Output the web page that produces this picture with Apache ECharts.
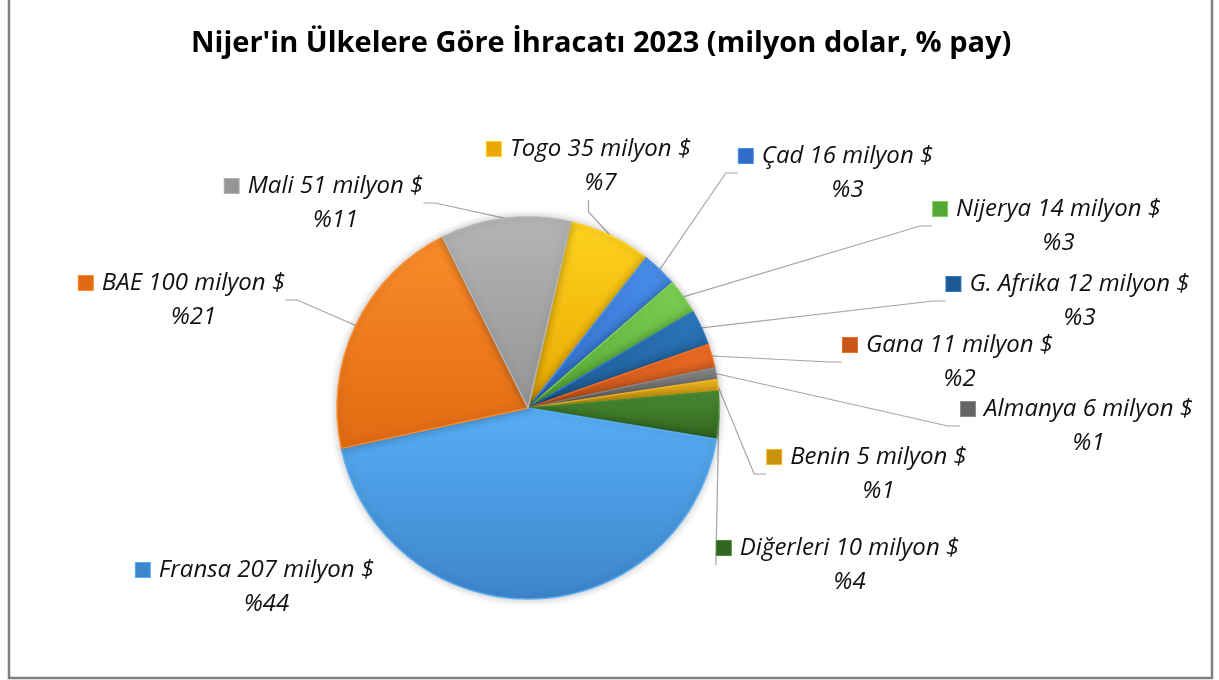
<!DOCTYPE html>
<html>
<head>
<meta charset="utf-8">
<title>Nijer ihracat 2023</title>
<script src="https://cdn.jsdelivr.net/npm/echarts@6/dist/echarts.min.js"></script>
<style>
  html, body { margin: 0; padding: 0; background: #fff; }
  #chart { width: 1219px; height: 680px; }
</style>
</head>
<body>
<div id="chart"></div>
<script>
// Data, clockwise from the top of the pie
const countries = ['Togo', 'Çad', 'Nijerya', 'G. Afrika', 'Gana', 'Almanya', 'Benin', 'Diğerleri', 'Fransa', 'BAE', 'Mali'];
const amounts = [35, 16, 14, 12, 11, 6, 5, 10, 207, 100, 51]; // milyon $
const shares = [7, 3, 3, 3, 2, 1, 1, 4, 44, 21, 11]; // % pay

// Slice colours (top tint, bottom shade)
const lightColors = ['#FFD21F', '#4A8FEA', '#7DD154', '#2C78BE', '#F06E25', '#8A8A8A', '#F2B820', '#4A8A33', '#58AEF5', '#FA8C2A', '#B4B4B4'];
const darkColors = ['#E8A800', '#2E6CC8', '#56A836', '#1D5A94', '#C8561A', '#666666', '#C8920A', '#33661F', '#3D85CC', '#E06A12', '#959595'];

// Label block centres (layout only)
const labelPos = [
  [589, 166], [836, 173], [1047, 226], [1068, 301], [948, 362], [1077, 426],
  [867, 474], [838, 565], [255, 587], [182, 300], [324, 203]
];

const chart = echarts.init(document.getElementById('chart'));

const seriesData = countries.map((name, i) => ({
  name: name,
  value: shares[i],
  itemStyle: {
    color: new echarts.graphic.LinearGradient(0, 0, 0, 1, [
      { offset: 0, color: lightColors[i] },
      { offset: 1, color: darkColors[i] }
    ]),
    borderColor: lightColors[i]
  },
  label: {
    formatter: '{k|}{t|' + name + ' ' + amounts[i] + ' milyon $}\n{p|%' + shares[i] + '}',
    rich: {
      k: {
        width: 14, height: 14,
        backgroundColor: darkColors[i],
        borderColor: lightColors[i], borderWidth: 1
      },
      t: { padding: [0, 0, 0, 9], fontSize: 24, lineHeight: 34, fontStyle: 'italic', color: '#111' },
      p: { padding: [0, 0, 0, 23], fontSize: 24, lineHeight: 34, fontStyle: 'italic', color: '#111' }
    }
  },
  labelLine: { show: name !== 'Fransa' }
}));

const option = {
  animation: false,
  title: {
    text: "Nijer'in Ülkelere Göre İhracatı 2023 (milyon dolar, % pay)",
    left: 186,
    top: 24,
    textStyle: { fontFamily: 'Open Sans', fontWeight: 'bold', fontSize: 29, color: '#000' }
  },
  textStyle: { fontFamily: 'Open Sans' },
  graphic: [{
    type: 'rect',
    shape: { x: 9, y: -5, width: 1203, height: 683 },
    style: { fill: 'none', stroke: '#808080', lineWidth: 2.5 },
    silent: true
  }],
  series: [{
    type: 'pie',
    center: [528, 408],
    radius: 191,
    startAngle: 77,
    clockwise: true,
    avoidLabelOverlap: false,
    itemStyle: {
      borderWidth: 1.5,
      shadowBlur: 8,
      shadowColor: 'rgba(0,0,0,0.25)'
    },
    label: {
      show: true,
      fontFamily: 'Open Sans',
      align: 'center',
      lineHeight: 34
    },
    labelLine: {
      show: true,
      length: 20,
      length2: 12,
      lineStyle: { color: '#A6A6A6', width: 1.2 }
    },
    labelLayout: function (params) {
      const p = labelPos[params.dataIndex];
      return { x: p[0], y: p[1], align: 'center', verticalAlign: 'middle' };
    },
    data: seriesData
  }]
};

chart.setOption(option);
</script>
</body>
</html>
